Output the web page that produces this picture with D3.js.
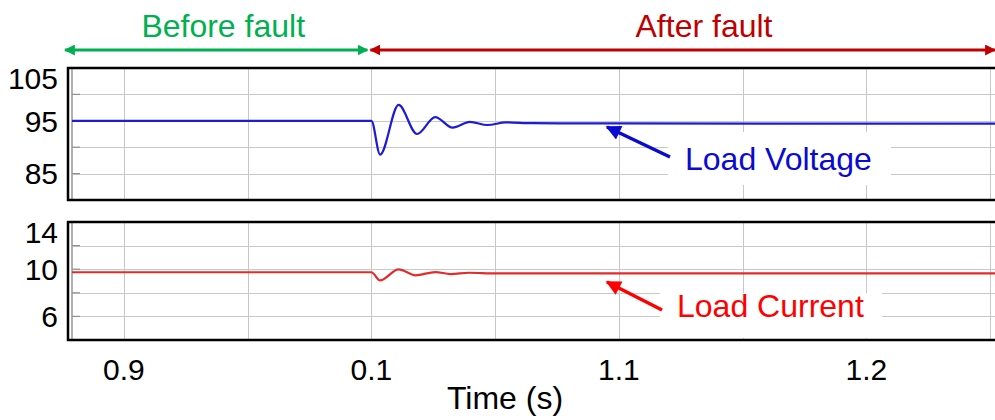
<!DOCTYPE html>
<html lang="en">
<head>
  <meta charset="UTF-8">
  <title>Load voltage and current before and after fault</title>
  <script src="https://d3js.org/d3.v7.min.js"></script>
  <style>
    body, html {
      margin: 0;
      padding: 0;
      background: #fff;
      overflow: hidden;
    }
    svg {
      display: block;
      font-family: "Liberation Sans", Arial, sans-serif;
    }
    .grid {
      stroke: #c8c8c8;
      stroke-width: 1px;
      shape-rendering: crispEdges;
    }
    .frame {
      fill: none;
      stroke: #000;
      stroke-width: 2.5px;
    }
  </style>
</head>
<body>
  <svg id="chart" width="995" height="420"></svg>

  <script>
    // data
    const timeV = [0.879, 1.0, 1.0035, 1.011, 1.0184, 1.0258, 1.0328, 1.0398, 1.0469, 1.0543, 1.065, 1.10, 1.252];
    const voltV = [95.0, 95.0, 88.6, 98.0, 92.5, 95.7, 93.7, 94.8, 94.2, 94.7, 94.55, 94.5, 94.45];

    const timeI = [0.879, 1.0, 1.0035, 1.011, 1.0178, 1.0258, 1.032, 1.0395, 1.05, 1.252];
    const curI = [9.74, 9.74, 9.05, 9.99, 9.48, 9.76, 9.59, 9.70, 9.65, 9.65];

    const xTickVals = [0.9, 1.0, 1.1, 1.2];
    const xTickLabels = ["0.9", "0.1", "1.1", "1.2"];
    const xGridVals = [0.9, 0.95, 1.0, 1.05, 1.1, 1.15, 1.2, 1.25];

    const vTicks = [105, 95, 85];
    const vGrid = [80, 85, 90, 95, 100, 105];
    const iTicks = [14, 10, 6];
    const iGrid = [4, 6, 8, 10, 12, 14];

    const faultTime = 1.0;

    const svg = d3.select("#chart");

    const frameLeft = 68;
    const x = d3.scaleLinear().domain([0.879, 1.252]).range([72, 995]);

    const panelV = { y0: 68, y1: 200 };
    const panelI = { y0: 222, y1: 340 };
    const yV = d3.scaleLinear().domain([80, 105]).range([panelV.y1, panelV.y0]);
    const yI = d3.scaleLinear().domain([4, 14]).range([panelI.y1, panelI.y0]);

    // arrow markers
    const defs = svg.append("defs");
    function marker(id, color, w, h) {
      defs.append("marker")
        .attr("id", id)
        .attr("viewBox", "0 0 10 10")
        .attr("refX", 9)
        .attr("refY", 5)
        .attr("markerUnits", "userSpaceOnUse")
        .attr("markerWidth", w)
        .attr("markerHeight", h)
        .attr("orient", "auto-start-reverse")
        .append("path")
        .attr("d", "M0,0 L10,5 L0,10 z")
        .attr("fill", color);
    }
    marker("headGreen", "#00b050", 11, 11);
    marker("headRed", "#c00000", 11, 11);
    marker("headBlue", "#0a0ad0", 17, 15);
    marker("headCur", "#ff0000", 17, 15);

    // draw one panel
    function drawPanel(p, y, grid, ticks, timeArr, valArr, color) {
      const g = svg.append("g");

      g.selectAll(".hgrid")
        .data(grid)
        .join("line")
        .attr("class", "grid")
        .attr("x1", x.range()[0])
        .attr("x2", 1000)
        .attr("y1", d => Math.round(y(d)) + 0.5)
        .attr("y2", d => Math.round(y(d)) + 0.5);

      g.selectAll(".vgrid")
        .data(xGridVals)
        .join("line")
        .attr("class", "grid")
        .attr("x1", d => Math.round(x(d)) + 0.5)
        .attr("x2", d => Math.round(x(d)) + 0.5)
        .attr("y1", p.y0)
        .attr("y2", p.y1);

      // inner left edge and small ticks
      g.append("line")
        .attr("x1", x.range()[0]).attr("x2", x.range()[0])
        .attr("y1", p.y0).attr("y2", p.y1)
        .attr("stroke", "#b0b0b0").attr("stroke-width", 2);

      g.selectAll(".ltick")
        .data(grid)
        .join("line")
        .attr("x1", x.range()[0])
        .attr("x2", x.range()[0] + 8)
        .attr("y1", d => y(d))
        .attr("y2", d => y(d))
        .attr("stroke", "#909090")
        .attr("stroke-width", 1.2);

      const line = d3.line()
        .x((d, i) => x(timeArr[i]))
        .y(d => y(d))
        .curve(d3.curveMonotoneX);

      g.append("path")
        .datum(valArr)
        .attr("d", line)
        .attr("fill", "none")
        .attr("stroke", color)
        .attr("stroke-width", 2.2);

      g.append("rect")
        .attr("class", "frame")
        .attr("x", frameLeft)
        .attr("y", p.y0)
        .attr("width", 1000 - frameLeft)
        .attr("height", p.y1 - p.y0);

      g.selectAll(".ylab")
        .data(ticks)
        .join("text")
        .attr("x", 58)
        .attr("y", d => Math.max(y(d), p.y0 + 10))
        .attr("dy", "0.36em")
        .attr("text-anchor", "end")
        .attr("font-size", 30)
        .attr("fill", "#000")
        .text(d => d);

      return g;
    }

    drawPanel(panelV, yV, vGrid, vTicks, timeV, voltV, "#1c1cd6");
    drawPanel(panelI, yI, iGrid, iTicks, timeI, curI, "#e52a2a");

    // x tick labels
    svg.selectAll(".xlab")
      .data(xTickVals)
      .join("text")
      .attr("x", d => x(d))
      .attr("y", 380)
      .attr("text-anchor", "middle")
      .attr("font-size", 30)
      .text((d, i) => xTickLabels[i]);

    svg.append("text")
      .attr("x", 505)
      .attr("y", 409)
      .attr("text-anchor", "middle")
      .attr("font-size", 32)
      .text("Time (s)");

    // before / after fault arrows
    const xf = x(faultTime);
    svg.append("line")
      .attr("x1", 65).attr("x2", xf - 4)
      .attr("y1", 50).attr("y2", 50)
      .attr("stroke", "#00b050").attr("stroke-width", 3)
      .attr("marker-start", "url(#headGreen)")
      .attr("marker-end", "url(#headGreen)");

    svg.append("line")
      .attr("x1", xf - 1).attr("x2", 995)
      .attr("y1", 50).attr("y2", 50)
      .attr("stroke", "#c00000").attr("stroke-width", 3)
      .attr("marker-start", "url(#headRed)")
      .attr("marker-end", "url(#headRed)");

    svg.append("text")
      .attr("x", (65 + xf) / 2 + 5)
      .attr("y", 37)
      .attr("text-anchor", "middle")
      .attr("font-size", 32)
      .attr("fill", "#00b050")
      .text("Before fault");

    svg.append("text")
      .attr("x", 704)
      .attr("y", 37)
      .attr("text-anchor", "middle")
      .attr("font-size", 32)
      .attr("fill", "#c00000")
      .text("After fault");

    // series annotations
    function annotate(label, color, head, box, tx, ty, from, to) {
      svg.append("rect")
        .attr("x", box[0]).attr("y", box[1])
        .attr("width", box[2]).attr("height", box[3])
        .attr("fill", "#fff");
      svg.append("text")
        .attr("x", tx).attr("y", ty)
        .attr("font-size", 32)
        .attr("fill", color)
        .text(label);
      svg.append("line")
        .attr("x1", from[0]).attr("y1", from[1])
        .attr("x2", to[0]).attr("y2", to[1])
        .attr("stroke", color).attr("stroke-width", 3.5)
        .attr("marker-end", `url(#${head})`);
    }

    annotate("Load Voltage", "#0a0ad0", "headBlue", [668, 132, 223, 53], 685, 170, [670, 157], [607, 127]);
    annotate("Load Current", "#ff0000", "headCur", [660, 293, 222, 45], 677, 317, [662, 310], [607, 282]);
  </script>
</body>
</html>
